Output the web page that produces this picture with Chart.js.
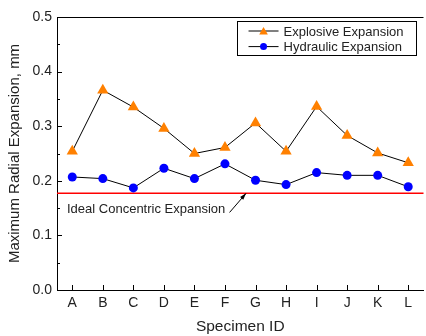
<!DOCTYPE html>
<html>
<head>
<meta charset="utf-8">
<script src="https://cdn.jsdelivr.net/npm/chart.js@4/dist/chart.umd.min.js"></script>
<style>
  html, body { margin: 0; padding: 0; background: #fff; overflow: hidden; }
  #wrap { width: 430px; height: 336px; }
</style>
</head>
<body>
<div id="wrap"><canvas id="chart" width="430" height="336"></canvas></div>
<script>
const specimens = ['A', 'B', 'C', 'D', 'E', 'F', 'G', 'H', 'I', 'J', 'K', 'L'];
const explosive = [0.254, 0.366, 0.335, 0.296, 0.250, 0.261, 0.306, 0.254, 0.336, 0.283, 0.251, 0.233];
const hydraulic = [0.207, 0.204, 0.187, 0.223, 0.204, 0.231, 0.201, 0.193, 0.215, 0.210, 0.210, 0.189];
const idealExpansion = 0.177;
const idealLabel = 'Ideal Concentric Expansion';
// annotation anchors in data units (category index, value)
const labelAt = [-0.5, 0.147];
const arrowFrom = [5.15, 0.142];
const arrowTo = [5.69, 0.177];

const FONT = '"Liberation Sans", Arial, sans-serif';
const ORANGE = 'rgb(255, 128, 0)';
const BLUE = 'rgb(0, 0, 255)';

function drawTriangle(ctx, x, y, r) {
    ctx.beginPath();
    ctx.moveTo(x, y - r);
    ctx.lineTo(x + r * 0.866, y + r * 0.5);
    ctx.lineTo(x - r * 0.866, y + r * 0.5);
    ctx.closePath();
    ctx.fill();
}

const decorations = {
    id: 'decorations',
    beforeDatasetsDraw(chart) {
        const { ctx, chartArea, scales: { x, y } } = chart;
        ctx.save();
        // ideal concentric line
        const yi = y.getPixelForValue(idealExpansion);
        ctx.strokeStyle = 'rgb(255, 0, 0)';
        ctx.lineWidth = 1.5;
        ctx.beginPath();
        ctx.moveTo(chartArea.left, yi);
        ctx.lineTo(chartArea.right, yi);
        ctx.stroke();

        // frame top
        ctx.strokeStyle = 'black';
        ctx.lineWidth = 1;
        ctx.beginPath();
        ctx.moveTo(chartArea.left, chartArea.top + 0.5);
        ctx.lineTo(chartArea.right, chartArea.top + 0.5);
        ctx.stroke();

        // inward ticks
        ctx.beginPath();
        y.ticks.forEach((t, i) => {
            const py = Math.round(y.getPixelForValue(t.value)) + 0.5;
            const len = i % 2 === 0 ? 5 : 3;
            ctx.moveTo(chartArea.left, py);
            ctx.lineTo(chartArea.left + len, py);
        });
        specimens.forEach((s, i) => {
            const px = Math.round(x.getPixelForValue(i)) + 0.5;
            ctx.moveTo(px, chartArea.bottom);
            ctx.lineTo(px, chartArea.bottom - 5);
        });
        ctx.stroke();

        // annotation
        ctx.fillStyle = '#222';
        ctx.font = '13px ' + FONT;
        ctx.textBaseline = 'middle';
        ctx.textAlign = 'left';
        ctx.fillText(idealLabel, x.getPixelForValue(labelAt[0]) + 10, y.getPixelForValue(labelAt[1]));

        const x1 = x.getPixelForValue(arrowFrom[0]), y1 = y.getPixelForValue(arrowFrom[1]);
        const x2 = x.getPixelForValue(arrowTo[0]), y2 = y.getPixelForValue(arrowTo[1]);
        ctx.strokeStyle = 'black';
        ctx.beginPath();
        ctx.moveTo(x1, y1);
        ctx.lineTo(x2, y2);
        ctx.stroke();
        const a = Math.atan2(y2 - y1, x2 - x1);
        ctx.fillStyle = 'black';
        ctx.beginPath();
        ctx.moveTo(x2, y2);
        ctx.lineTo(x2 - 7 * Math.cos(a - 0.3), y2 - 7 * Math.sin(a - 0.3));
        ctx.lineTo(x2 - 7 * Math.cos(a + 0.3), y2 - 7 * Math.sin(a + 0.3));
        ctx.closePath();
        ctx.fill();
        ctx.restore();
    },
    afterDraw(chart) {
        const { ctx, chartArea } = chart;
        const sets = chart.data.datasets;
        ctx.save();
        ctx.font = '13px ' + FONT;
        const textW = Math.max(...sets.map(d => ctx.measureText(d.label).width));
        const w = 12 + 30 + 5 + textW + 12;
        const h = 34;
        const left = chartArea.right - 8 - w;
        const top = chartArea.top + 4;
        ctx.fillStyle = 'white';
        ctx.fillRect(left, top, w, h);
        ctx.strokeStyle = 'black';
        ctx.lineWidth = 1;
        ctx.strokeRect(Math.round(left) + 0.5, Math.round(top) + 0.5, Math.round(w), h);

        sets.forEach((d, i) => {
            const cy = top + 10 + i * 15.6;
            const lx = left + 12;
            ctx.strokeStyle = 'black';
            ctx.beginPath();
            ctx.moveTo(lx, cy);
            ctx.lineTo(lx + 30, cy);
            ctx.stroke();
            ctx.fillStyle = d.pointBackgroundColor;
            if (d.pointStyle === 'triangle') {
                drawTriangle(ctx, lx + 15, cy + 1, 5);
            } else {
                ctx.beginPath();
                ctx.arc(lx + 15, cy, 3.5, 0, Math.PI * 2);
                ctx.fill();
            }
            ctx.fillStyle = '#222';
            ctx.textBaseline = 'middle';
            ctx.textAlign = 'left';
            ctx.fillText(d.label, lx + 35, cy + 1);
        });
        ctx.restore();
    }
};

new Chart(document.getElementById('chart'), {
    type: 'line',
    data: {
        labels: specimens,
        datasets: [
            {
                label: 'Explosive Expansion',
                data: explosive,
                borderColor: 'black',
                borderWidth: 1,
                pointStyle: 'triangle',
                pointRadius: 6.5,
                pointBorderWidth: 0,
                pointBackgroundColor: ORANGE,
                pointBorderColor: ORANGE,
            },
            {
                label: 'Hydraulic Expansion',
                data: hydraulic,
                borderColor: 'black',
                borderWidth: 1,
                pointStyle: 'circle',
                pointRadius: 4.5,
                pointBorderWidth: 0,
                pointBackgroundColor: BLUE,
                pointBorderColor: BLUE,
            }
        ]
    },
    plugins: [decorations],
    options: {
        responsive: false,
        animation: false,
        layout: { padding: { top: 17, right: 1, left: 0, bottom: 0 } },
        plugins: {
            legend: { display: false },
            tooltip: { enabled: false },
        },
        scales: {
            x: {
                offset: true,
                afterFit: s => { s.height = 46; },
                border: { color: 'black', width: 1 },
                grid: { display: false, drawTicks: false },
                ticks: {
                    color: '#222',
                    padding: 5,
                    font: { family: FONT, size: 14 },
                },
                title: {
                    display: true,
                    text: 'Specimen ID',
                    color: '#222',
                    padding: { top: 2, bottom: 0 },
                    font: { family: FONT, size: 15.5 },
                }
            },
            y: {
                min: 0,
                max: 0.5,
                afterFit: s => { s.width = 57; },
                border: { color: 'black', width: 1 },
                grid: { display: false, drawTicks: false },
                ticks: {
                    stepSize: 0.05,
                    autoSkip: false,
                    color: '#222',
                    padding: 5,
                    font: { family: FONT, size: 14 },
                    callback: (v, i) => (i % 2 === 0 ? Number(v).toFixed(1) : ''),
                },
                title: {
                    display: true,
                    text: 'Maximum Radial Expansion, mm',
                    color: '#222',
                    padding: { top: 6, bottom: 0 },
                    font: { family: FONT, size: 15 },
                }
            }
        }
    }
});
</script>
</body>
</html>
